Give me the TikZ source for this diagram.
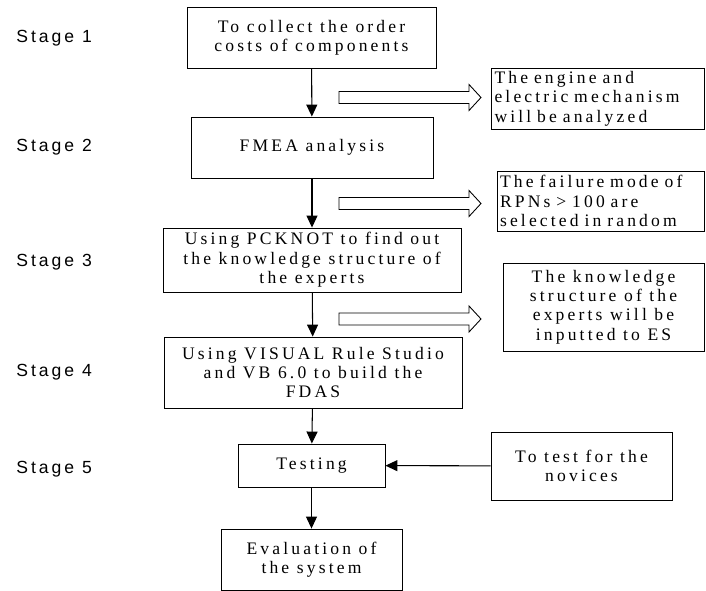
\documentclass[tikz,border=0pt]{standalone}
\usepackage{fontspec}
\setmainfont{Liberation Serif}[LetterSpace=18]
\newfontfamily\stagefont{Liberation Sans}[LetterSpace=17]
\usetikzlibrary{arrows.meta}

\tikzset{
  box/.style={draw, line width=0.5pt, inner sep=2pt, align=center, font=\fontsize{10}{11}\selectfont},
  note/.style={box, inner sep=0pt, align=left},
  flow/.style={-{Triangle[length=0.24cm,width=0.22cm]}, line width=0.6pt},
  stage/.style={anchor=west, inner sep=0pt, font=\stagefont\fontsize{10}{12}\selectfont},
  hollow/.style={draw, line width=0.5pt, fill=white}
}

\begin{document}
\begin{tikzpicture}[x=0.02cm, y=-0.02cm]
    \useasboundingbox (0,0) rectangle (706,591);

    \foreach \n/\y in {1/38, 2/147, 3/262, 4/372, 5/469}
        \node[stage] (st\n) at (16,\y) {Stage \n};

    \node[box, minimum width=4.98cm, minimum height=1.22cm] (collect) at (311.5,37.5) {To collect the order\\costs of components};
    \node[box, minimum width=4.84cm, minimum height=1.22cm] (fmea) at (312,147.5) {FMEA analysis};
    \node[box, minimum width=5.96cm, minimum height=1.28cm] (pcknot) at (312,260) {Using PCKNOT to find out\\the knowledge structure of\\the experts};
    \node[box, minimum width=5.96cm, minimum height=1.42cm] (fdas) at (313,372.5) {Using VISUAL Rule Studio\\and VB 6.0 to build the\\FDAS};
    \node[box, minimum width=2.94cm, minimum height=0.86cm] (testing) at (311.5,465.5) {Testing};
    \node[box, minimum width=3.62cm, minimum height=1.22cm] (evaluation) at (311.5,559.5) {Evaluation of\\the system};

    \node[note, text width=4.12cm, minimum width=4.26cm, minimum height=1.22cm] (engine) at (597.5,98.5) {The engine and\\electric mechanism\\will be analyzed};
    \node[note, text width=4.02cm, minimum width=4.14cm, minimum height=1.2cm] (failure) at (600.5,201) {The failure mode of\\RPNs > 100 are\\selected in random};
    \node[box, minimum width=4.02cm, minimum height=1.76cm] (structure) at (603.5,307) {The knowledge\\structure of the\\experts will be\\inputted to ES};
    \node[box, minimum width=3.62cm, minimum height=1.36cm] (novices) at (581.5,466) {To test for the\\novices};

    \draw[flow] (collect) -- (fmea);
    \draw[flow] (fmea) -- (pcknot);
    \draw[flow] (pcknot) -- (fdas);
    \draw[flow] (fdas) -- (testing);
    \draw[flow] (testing) -- (evaluation);
    \draw[flow] (novices) -- (testing);

    \foreach \y in {97.5, 203.5, 319}
        \draw[hollow] (339,\y-6) -- (469,\y-6) -- (469,\y-13) -- (481,\y) -- (469,\y+13) -- (469,\y+6) -- (339,\y+6) -- cycle;
\end{tikzpicture}
\end{document}
